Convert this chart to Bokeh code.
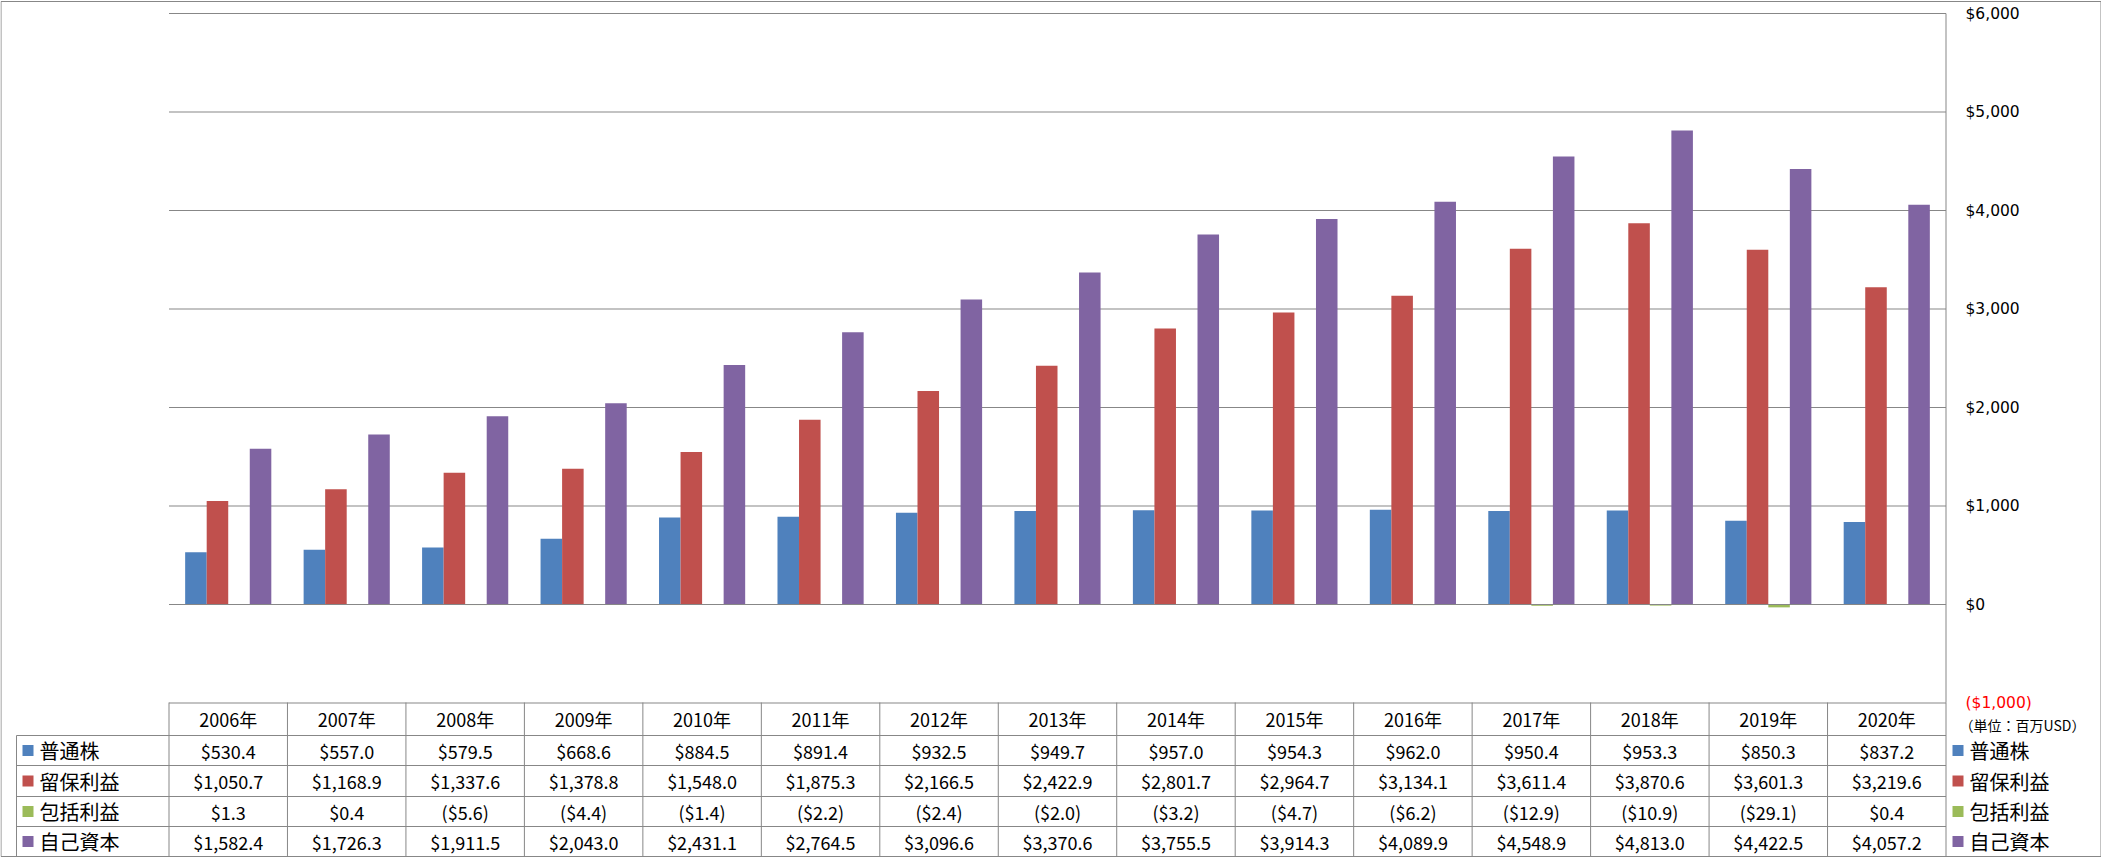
import numpy as np
from bokeh.plotting import figure
from bokeh.models import Range1d, ColumnDataSource
from bokeh.transform import dodge
from bokeh.core.properties import value
from bokeh.embed import file_html
from bokeh.resources import INLINE

# ---------------- data ----------------
years = ["2006年", "2007年", "2008年", "2009年", "2010年", "2011年", "2012年", "2013年",
         "2014年", "2015年", "2016年", "2017年", "2018年", "2019年", "2020年"]
series_names = ["普通株", "留保利益", "包括利益", "自己資本"]
common_stock = [530.4, 557.0, 579.5, 668.6, 884.5, 891.4, 932.5, 949.7, 957.0, 954.3,
                962.0, 950.4, 953.3, 850.3, 837.2]
retained_earnings = [1050.7, 1168.9, 1337.6, 1378.8, 1548.0, 1875.3, 2166.5, 2422.9, 2801.7,
                     2964.7, 3134.1, 3611.4, 3870.6, 3601.3, 3219.6]
comprehensive_income = [1.3, 0.4, -5.6, -4.4, -1.4, -2.2, -2.4, -2.0, -3.2, -4.7, -6.2,
                        -12.9, -10.9, -29.1, 0.4]
equity = [1582.4, 1726.3, 1911.5, 2043.0, 2431.1, 2764.5, 3096.6, 3370.6, 3755.5, 3914.3,
          4089.9, 4548.9, 4813.0, 4422.5, 4057.2]
y_ticks = [-1000, 0, 1000, 2000, 3000, 4000, 5000, 6000]
unit_label = "（単位：百万USD）"
colors = ["#4F81BD", "#C0504D", "#9BBB59", "#8064A2"]

# ---------------- layout (pixels) ----------------
W, H = 2101, 858
PL, PR = 168.5, 1945.5          # plot area left / right
Y0PX, YTOPPX = 604.0, 13.0      # pixel of $0 and of top tick
n = len(years)
U = (PR - PL) / n
K = (max(y_ticks) - 0) / (Y0PX - YTOPPX)


def X(px):
    return (px - PL) / U


def Y(py):
    return (Y0PX - py) * K


GRID = "#878787"
p = figure(width=W, height=H, x_range=Range1d(X(0), X(W)), y_range=Range1d(Y(H), Y(0)),
           output_backend="svg", toolbar_location=None, min_border=0,
           x_axis_location=None, y_axis_location=None)
p.xgrid.visible = False
p.ygrid.visible = False
p.outline_line_color = None
p.background_fill_color = "white"
p.border_fill_color = "white"

# outer border
p.quad(left=[X(0.5)], right=[X(2100.5)], top=[Y(1)], bottom=[Y(856)],
       fill_color=None, line_color=GRID, line_width=1)

# gridlines behind bars
gl = [t for t in y_ticks if t > 0]
p.segment(x0=[0] * len(gl), x1=[n] * len(gl), y0=gl, y1=gl, line_color=GRID, line_width=1)

# bars
src = ColumnDataSource(dict(xc=np.arange(n) + 0.5, s0=common_stock, s1=retained_earnings,
                            s2=comprehensive_income, s3=equity))
bw = 1 / 5.5
offs = [-1.5, -0.5, 0.5, 1.5]
for k, col in enumerate(["s0", "s1", "s2", "s3"]):
    p.vbar(x=dodge("xc", offs[k] * bw, range=p.x_range), top=col, bottom=0, width=bw,
           fill_color=colors[k], line_color=None, source=src)

# zero line and table top line
p.segment(x0=[0, 0], x1=[n, n], y0=[0, y_ticks[0]], y1=[0, y_ticks[0]],
          line_color=GRID, line_width=1)

# table geometry
row_edges = [702, 735, 765, 796, 826, 856]
row_centers = [(row_edges[i] + row_edges[i + 1]) / 2 for i in range(5)]
LBL_L = 16
# horizontal table lines
hy = [Y(r) for r in row_edges[1:5]]
p.segment(x0=[X(LBL_L)] * 4, x1=[n] * 4, y0=hy, y1=hy, line_color=GRID, line_width=1)
# vertical table lines
vx = list(range(n + 1))
p.segment(x0=vx, x1=vx, y0=[Y(702)] * len(vx), y1=[Y(856)] * len(vx), line_color=GRID, line_width=1)
p.segment(x0=[n], x1=[n], y0=[Y(13)], y1=[Y(702)], line_color=GRID, line_width=1)
p.segment(x0=[X(LBL_L)], x1=[X(LBL_L)], y0=[Y(735)], y1=[Y(856)], line_color=GRID, line_width=1)

TF = value("Noto Sans CJK JP")
xc = list(np.arange(n) + 0.5)
p.text(x=xc, y=[Y(row_centers[0])] * n, text=years, text_font=TF, text_font_size="18px",
       text_align="center", text_baseline="middle", text_color="black")


def fmt(v):
    return f"${v:,.1f}" if v >= 0 else f"(${-v:,.1f})"


all_series = [common_stock, retained_earnings, comprehensive_income, equity]
for r, s in enumerate(all_series):
    yy = Y(row_centers[r + 1])
    p.text(x=xc, y=[yy] * n, text=[fmt(v) for v in s], text_font=TF, text_font_size="18px",
           text_align="center", text_baseline="middle", text_color="black")

# row labels (left) and legend (right)
ly = [Y(c) for c in row_centers[1:]]
p.rect(x=[X(27.5)] * 4, y=ly, width=11, height=11, width_units="screen", height_units="screen",
       fill_color=colors, line_color=None)
p.text(x=[X(39)] * 4, y=ly, text=series_names, text_font=TF, text_font_size="20px",
       text_align="left", text_baseline="middle", text_color="black")
p.rect(x=[X(1957.5)] * 4, y=ly, width=11, height=11, width_units="screen", height_units="screen",
       fill_color=colors, line_color=None)
p.text(x=[X(1969)] * 4, y=ly, text=series_names, text_font=TF, text_font_size="20px",
       text_align="left", text_baseline="middle", text_color="black")

# right-side value axis labels
def tfmt(v):
    return f"${v:,}" if v >= 0 else f"(${-v:,})"


p.text(x=[X(1965)] * len(y_ticks), y=y_ticks, text=[tfmt(t) for t in y_ticks],
       text_font=value("DejaVu Sans"), text_font_size="15.5px", text_align="left",
       text_baseline="middle", text_color=["#FF0000" if t < 0 else "black" for t in y_ticks])
p.text(x=[X(1959)], y=[Y(724)], text=[unit_label], text_font=TF, text_font_size="14px",
       text_align="left", text_baseline="middle", text_color="black")

open("out.html", "w").write(file_html(p, INLINE))
